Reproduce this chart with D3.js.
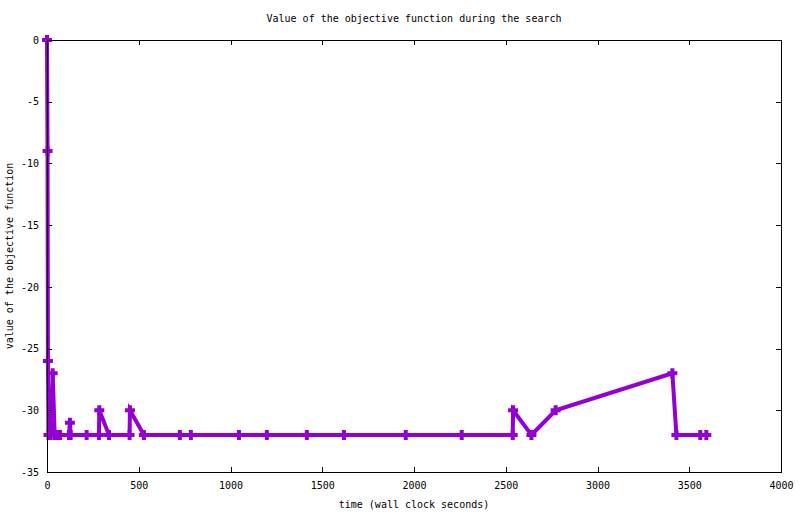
<!doctype html>
<html>
  <head>
    <meta charset="utf-8">
    <title>Objective function</title>
    <script src="https://cdnjs.cloudflare.com/ajax/libs/d3/7.8.5/d3.min.js"></script>
    <style>
      body { margin: 0; background: #fff; }
      text { font-family: "DejaVu Sans Mono", monospace; font-size: 10px; fill: #000; }
    </style>
  </head>
  <body>
    <div id="chart"></div>
    <script>
      // data: wall clock seconds and objective value
      const times = [0, 3, 5, 8, 20, 31, 42, 55, 71, 120, 125, 129, 216, 283, 285, 338, 450, 452, 528,
                     724, 784, 1046, 1198, 1416, 1618, 1955, 2260, 2538, 2540, 2640, 2772, 3408, 3430, 3560, 3593];
      const values = [0, -9, -26, -32, -32, -27, -32, -32, -32, -32, -31, -32, -32, -32, -30, -32, -32, -30, -32,
                      -32, -32, -32, -32, -32, -32, -32, -32, -32, -30, -32, -30, -27, -32, -32, -32];
      const xTicks = [0, 500, 1000, 1500, 2000, 2500, 3000, 3500, 4000];
      const yTicks = [0, -5, -10, -15, -20, -25, -30, -35];

      const width = 800, height = 514;
      const mLeft = 47, mRight = 781, mTop = 40, mBottom = 472;

      const svg = d3.select('#chart').append('svg')
        .attr('width', width)
        .attr('height', height);

      const x = d3.scaleLinear().domain([0, 4000]).range([mLeft, mRight]);
      const y = d3.scaleLinear().domain([-35, 0]).range([mBottom, mTop]);

      // the series, drawn first so the axis line stays on top
      const pts = times.map((t, i) => [t, values[i]]);
      const line = d3.line().x(d => x(d[0])).y(d => y(d[1]));

      svg.append('path')
        .datum(pts)
        .attr('d', line)
        .attr('fill', 'none')
        .attr('stroke', '#9400d3')
        .attr('stroke-width', 4)
        .attr('stroke-linejoin', 'miter');

      svg.append('g').selectAll('path')
        .data(pts)
        .join('path')
        .attr('transform', d => `translate(${x(d[0])},${y(d[1])})`)
        .attr('d', 'M-5,0H5M0,-5V5')
        .attr('stroke', '#9400d3')
        .attr('stroke-width', 4)
        .attr('fill', 'none');

      // axes, ticks pointing inwards, mirrored on top and right
      svg.append('g')
        .attr('transform', `translate(0,${mBottom})`)
        .call(d3.axisBottom(x).tickValues(xTicks).tickSize(-5).tickPadding(10).tickFormat(d3.format('d')));
      svg.append('g')
        .attr('transform', `translate(0,${mTop})`)
        .call(d3.axisTop(x).tickValues(xTicks).tickSize(-5).tickFormat(''));
      const yAxis = svg.append('g')
        .attr('transform', `translate(${mLeft},0)`)
        .call(d3.axisLeft(y).tickValues(yTicks).tickSize(-5).tickPadding(8).tickFormat(d3.format('d')));
      svg.append('g')
        .attr('transform', `translate(${mRight},0)`)
        .call(d3.axisRight(y).tickValues(yTicks).tickSize(-5).tickFormat(''));

      svg.selectAll('.domain').remove();
      svg.selectAll('.tick line').attr('stroke', '#000').attr('shape-rendering', 'crispEdges');
      svg.selectAll('.tick text').attr('font-family', null).attr('font-size', null);
      yAxis.selectAll('.tick text').text(d => d === 0 ? '0' : '-' + Math.abs(d));

      svg.append('rect')
        .attr('x', mLeft).attr('y', mTop)
        .attr('width', mRight - mLeft).attr('height', mBottom - mTop)
        .attr('fill', 'none').attr('stroke', '#000')
        .attr('shape-rendering', 'crispEdges');

      // titles
      svg.append('text')
        .attr('x', (mLeft + mRight) / 2).attr('y', 22)
        .attr('text-anchor', 'middle')
        .text('Value of the objective function during the search');
      svg.append('text')
        .attr('x', (mLeft + mRight) / 2).attr('y', 508)
        .attr('text-anchor', 'middle')
        .text('time (wall clock seconds)');
      svg.append('text')
        .attr('transform', `translate(13,${(mTop + mBottom) / 2}) rotate(-90)`)
        .attr('text-anchor', 'middle')
        .text('value of the objective function');
    </script>
  </body>
</html>
